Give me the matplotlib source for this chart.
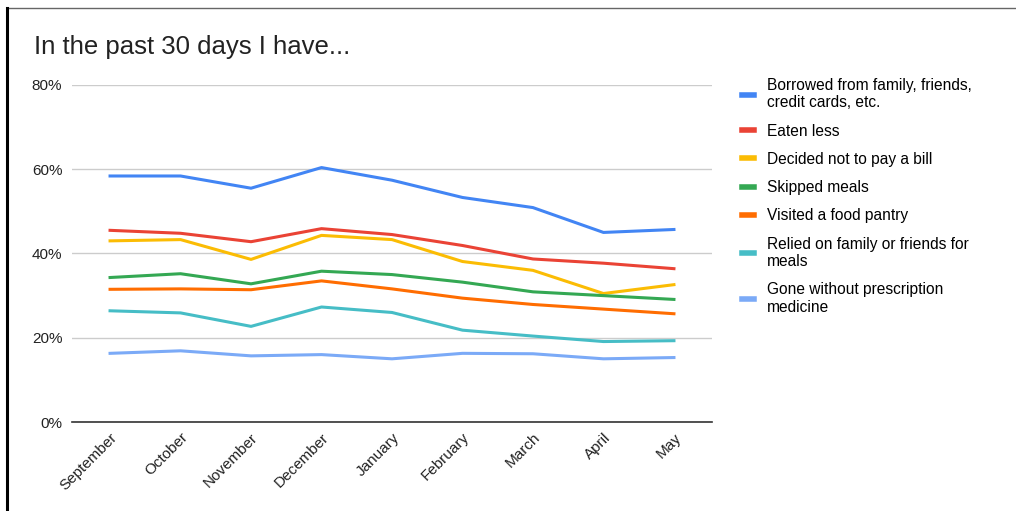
import matplotlib.pyplot as plt
from matplotlib.lines import Line2D
from matplotlib.ticker import FuncFormatter

plt.rcParams["font.family"] = ["Liberation Sans", "DejaVu Sans"]

months = ["September", "October", "November", "December", "January",
          "February", "March", "April", "May"]

borrowed = [58.4, 58.4, 55.5, 60.4, 57.4, 53.3, 50.9, 45.0, 45.7]
eaten_less = [45.5, 44.8, 42.8, 45.9, 44.5, 41.9, 38.7, 37.7, 36.4]
no_bill = [43.0, 43.3, 38.6, 44.3, 43.3, 38.1, 36.0, 30.5, 32.6]
skipped = [34.3, 35.2, 32.8, 35.8, 35.0, 33.2, 30.9, 30.0, 29.1]
pantry = [31.5, 31.6, 31.4, 33.5, 31.6, 29.4, 27.9, 26.8, 25.7]
relied = [26.4, 25.9, 22.7, 27.3, 26.0, 21.8, 20.4, 19.1, 19.3]
no_medicine = [16.3, 16.9, 15.7, 16.0, 15.0, 16.3, 16.2, 15.0, 15.3]

series = [
    ("Borrowed from family, friends,\ncredit cards, etc.", borrowed, "#4285F4"),
    ("Eaten less", eaten_less, "#EA4335"),
    ("Decided not to pay a bill", no_bill, "#FBBC04"),
    ("Skipped meals", skipped, "#34A853"),
    ("Visited a food pantry", pantry, "#FF6D01"),
    ("Relied on family or friends for\nmeals", relied, "#46BDC6"),
    ("Gone without prescription\nmedicine", no_medicine, "#7BAAF7"),
]

fig = plt.figure(figsize=(10.16, 5.11), dpi=100)
ax = fig.add_axes([72 / 1016, 89 / 511, 640 / 1016, 337 / 511])

x = list(range(len(months)))
for label, values, color in series:
    ax.plot(x, values, color=color, linewidth=2.2, label=label)

ax.set_xlim(-0.54, 8.54)
ax.set_ylim(0, 80)
ax.set_yticks([0, 20, 40, 60, 80])
ax.yaxis.set_major_formatter(FuncFormatter(lambda v, _: f"{v:.0f}%"))
ax.set_xticks(x)
ax.set_xticklabels(months, rotation=45, ha="right", rotation_mode="anchor")
ax.tick_params(axis="both", length=0, labelsize=11, colors="#222222")
ax.tick_params(axis="y", pad=7)
ax.tick_params(axis="x", pad=6)
ax.grid(axis="y", color="#cccccc", linewidth=1)
ax.set_axisbelow(True)
for side in ["top", "right", "left"]:
    ax.spines[side].set_visible(False)
ax.spines["bottom"].set_color("#333333")
ax.spines["bottom"].set_linewidth(1.2)

fig.text(34 / 1016, 1 - 47 / 511, "In the past 30 days I have...",
         fontsize=18.5, va="center", ha="left", color="#222222")

ax.legend(loc="upper left", bbox_to_anchor=(728 / 1016, 1 - 64 / 511),
          bbox_transform=fig.transFigure, frameon=False, fontsize=11.2,
          handlelength=0.8, handletextpad=0.8, labelspacing=0.85)
for line in ax.get_legend().get_lines():
    line.set_linewidth(4)

# chart border bits
fig.add_artist(Line2D([7 / 1016, 1], [1 - 8 / 511, 1 - 8 / 511],
                      transform=fig.transFigure, color="#666666", linewidth=1))
fig.add_artist(Line2D([7 / 1016, 7 / 1016], [0, 1 - 8 / 511],
                      transform=fig.transFigure, color="#000000", linewidth=2.2))

fig.savefig("out.png", dpi=100)
